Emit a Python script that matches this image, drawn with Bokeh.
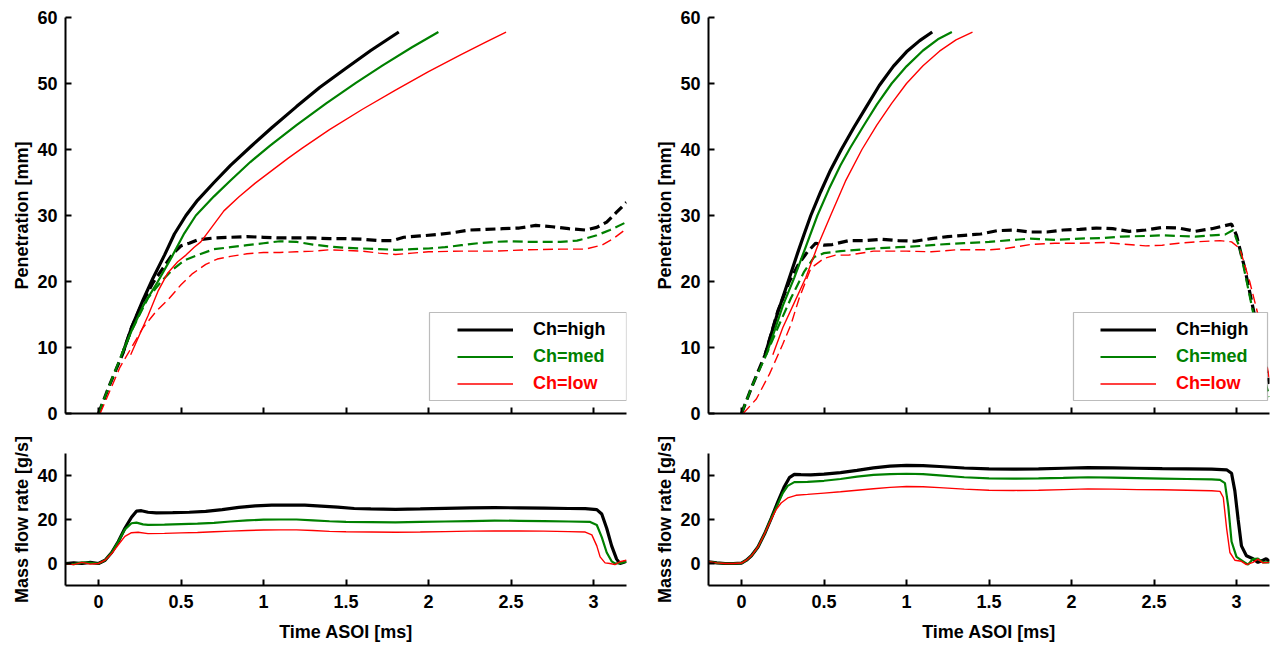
from bokeh.plotting import figure
from bokeh.layouts import gridplot
from bokeh.models import Range1d, FixedTicker, Legend, LegendItem, BoxAnnotation
from bokeh.embed import file_html
from bokeh.resources import INLINE

# ---------------- data ----------------
series_names = ["Ch=high", "Ch=med", "Ch=low"]
x_ticks = [0, 0.5, 1, 1.5, 2, 2.5, 3]
x_tick_labels = ["0", "0.5", "1", "1.5", "2", "2.5", "3"]
pen_ticks = [0, 10, 20, 30, 40, 50, 60]
mfr_ticks = [0, 20, 40]

# Left column, penetration, solid (vapour)
L_vap_high_t = [0.144, 0.2, 0.27, 0.33, 0.4, 0.46, 0.53, 0.6, 0.7, 0.8, 0.93, 1.05, 1.2, 1.34, 1.5, 1.65, 1.82]
L_vap_high_y = [8.9, 13.0, 17.2, 20.5, 24.0, 27.2, 30.0, 32.3, 35.0, 37.6, 40.6, 43.3, 46.5, 49.4, 52.3, 55.0, 57.8]
L_vap_med_t = [0.14, 0.2, 0.27, 0.36, 0.45, 0.52, 0.59, 0.7, 0.8, 0.92, 1.04, 1.2, 1.38, 1.56, 1.72, 1.9, 2.06]
L_vap_med_y = [8.9, 12.5, 16.3, 20.0, 24.0, 27.3, 30.0, 32.9, 35.3, 38.1, 40.6, 43.7, 47.0, 50.1, 52.7, 55.5, 57.8]
L_vap_low_t = [0.195, 0.25, 0.3, 0.36, 0.42, 0.48, 0.53, 0.58, 0.62, 0.68, 0.76, 0.85, 0.95, 1.05, 1.15, 1.235, 1.4, 1.6, 1.8, 2.0, 2.2, 2.35, 2.47]
L_vap_low_y = [8.9, 12.0, 14.8, 18.5, 21.3, 23.0, 24.0, 25.2, 26.0, 28.0, 30.7, 32.8, 34.9, 36.8, 38.7, 40.2, 43.0, 46.1, 49.0, 51.8, 54.4, 56.3, 57.8]

# Left column, penetration, dashed (liquid)
L_liq_high_t = [0, 0.07, 0.144, 0.2, 0.27, 0.33, 0.39, 0.45, 0.5, 0.55, 0.6, 0.7, 0.8, 0.9, 1.0, 1.1, 1.2, 1.3, 1.4, 1.5, 1.6, 1.7, 1.78, 1.85, 1.95, 2.05, 2.15, 2.25, 2.35, 2.45, 2.55, 2.65, 2.75, 2.85, 2.95, 3.02, 3.08, 3.14, 3.2]
L_liq_high_y = [0, 4.5, 8.9, 13.0, 17.0, 19.8, 22.0, 24.2, 25.4, 25.8, 26.3, 26.6, 26.7, 26.8, 26.7, 26.6, 26.6, 26.6, 26.5, 26.5, 26.4, 26.2, 26.2, 26.7, 26.9, 27.1, 27.4, 27.8, 27.9, 28.0, 28.1, 28.5, 28.3, 28.0, 27.8, 28.2, 29.0, 30.5, 32.0]
L_liq_med_t = [0, 0.07, 0.14, 0.2, 0.3, 0.38, 0.45, 0.52, 0.6, 0.7, 0.8, 0.9, 1.0, 1.1, 1.2, 1.3, 1.4, 1.5, 1.6, 1.7, 1.8, 1.9, 2.0, 2.1, 2.2, 2.3, 2.4, 2.5, 2.6, 2.7, 2.8, 2.9, 2.95, 3.02, 3.1, 3.2]
L_liq_med_y = [0, 4.5, 8.9, 12.5, 17.5, 20.0, 21.8, 23.2, 24.0, 24.9, 25.2, 25.5, 25.8, 26.1, 26.0, 25.6, 25.3, 25.1, 25.0, 24.9, 24.8, 24.9, 25.0, 25.2, 25.5, 25.8, 26.0, 26.1, 26.0, 26.0, 26.0, 26.2, 26.5, 27.0, 27.8, 29.0]
L_liq_low_t = [0.01, 0.07, 0.13, 0.2, 0.27, 0.35, 0.42, 0.5, 0.57, 0.65, 0.72, 0.8, 0.9, 1.0, 1.1, 1.2, 1.3, 1.4, 1.5, 1.6, 1.7, 1.8, 1.9, 2.0, 2.2, 2.4, 2.6, 2.8, 2.95, 3.05, 3.12, 3.2]
L_liq_low_y = [0, 3.5, 7.0, 10.0, 13.0, 15.5, 17.2, 19.5, 21.2, 22.6, 23.4, 23.8, 24.2, 24.4, 24.4, 24.5, 24.6, 24.8, 24.7, 24.6, 24.3, 24.1, 24.3, 24.5, 24.6, 24.6, 24.8, 24.9, 24.9, 25.5, 26.5, 28.0]

# Right column, penetration, solid (vapour)
R_vap_high_t = [0.143, 0.18, 0.22, 0.26, 0.3, 0.34, 0.38, 0.42, 0.48, 0.54, 0.605, 0.68, 0.75, 0.835, 0.92, 1.0, 1.08, 1.156]
R_vap_high_y = [8.9, 12.0, 15.3, 18.3, 21.3, 24.3, 27.2, 30.0, 33.6, 36.9, 40.0, 43.3, 46.2, 49.7, 52.6, 54.8, 56.5, 57.8]
R_vap_med_t = [0.15, 0.2, 0.25, 0.32, 0.39, 0.46, 0.53, 0.6, 0.66, 0.74, 0.82, 0.91, 1.0, 1.1, 1.19, 1.275]
R_vap_med_y = [8.9, 12.5, 16.3, 20.6, 25.3, 30.0, 34.0, 37.6, 40.3, 43.6, 46.8, 50.0, 52.6, 55.0, 56.7, 57.8]
R_vap_low_t = [0.19, 0.25, 0.32, 0.39, 0.46, 0.54, 0.63, 0.73, 0.82, 0.91, 1.0, 1.1, 1.2, 1.3, 1.4]
R_vap_low_y = [8.9, 13.0, 16.8, 20.6, 25.3, 30.0, 35.2, 40.0, 43.7, 47.0, 50.0, 52.7, 54.9, 56.6, 57.8]

# Right column, penetration, dashed (liquid)
R_liq_high_t = [0, 0.07, 0.143, 0.22, 0.29, 0.35, 0.4, 0.45, 0.5, 0.55, 0.65, 0.75, 0.85, 0.95, 1.05, 1.15, 1.25, 1.35, 1.45, 1.55, 1.65, 1.75, 1.85, 1.95, 2.05, 2.15, 2.25, 2.35, 2.45, 2.55, 2.65, 2.75, 2.85, 2.92, 2.97, 3.0, 3.05, 3.1, 3.15, 3.2]
R_liq_high_y = [0, 4.5, 8.9, 15.5, 20.0, 22.8, 24.5, 25.8, 25.5, 25.6, 26.2, 26.2, 26.4, 26.2, 26.1, 26.5, 26.8, 27.0, 27.2, 27.7, 27.8, 27.5, 27.5, 27.8, 27.9, 28.1, 28.0, 27.6, 27.8, 28.2, 28.1, 27.6, 28.0, 28.4, 28.7, 27.0, 22.0, 16.0, 10.0, 4.5]
R_liq_med_t = [0, 0.07, 0.15, 0.22, 0.3, 0.38, 0.44, 0.5, 0.6, 0.7, 0.8, 0.95, 1.1, 1.2, 1.35, 1.5, 1.65, 1.75, 1.9, 2.05, 2.2, 2.3, 2.45, 2.55, 2.65, 2.75, 2.85, 2.93, 2.98, 3.02, 3.07, 3.12, 3.16, 3.2]
R_liq_med_y = [0, 4.5, 8.9, 13.0, 17.5, 21.5, 23.7, 24.3, 24.6, 24.8, 25.0, 25.2, 25.4, 25.6, 25.8, 26.0, 26.3, 26.5, 26.3, 26.5, 26.6, 26.8, 26.9, 27.0, 26.9, 26.8, 27.0, 27.1, 27.8, 25.0, 19.0, 13.0, 6.0, 2.5]
R_liq_low_t = [0.01, 0.09, 0.17, 0.25, 0.3, 0.35, 0.42, 0.5, 0.57, 0.65, 0.8, 1.0, 1.15, 1.3, 1.5, 1.6, 1.75, 1.9, 2.05, 2.2, 2.3, 2.45, 2.55, 2.65, 2.75, 2.9, 2.97, 3.02, 3.08, 3.13, 3.18, 3.2]
R_liq_low_y = [0, 2.2, 6.0, 10.5, 13.5, 17.5, 22.0, 23.5, 24.0, 24.0, 24.6, 24.6, 24.5, 24.8, 24.8, 25.0, 25.6, 25.8, 25.8, 25.9, 25.7, 25.4, 25.5, 25.8, 26.0, 26.2, 26.0, 25.0, 20.0, 15.0, 8.0, 5.0]

# Left column, mass flow rate
L_mfr_high_t = [-0.2, -0.15, -0.1, -0.05, 0.0, 0.04, 0.08, 0.12, 0.16, 0.2, 0.23, 0.26, 0.3, 0.35, 0.45, 0.55, 0.65, 0.75, 0.85, 0.95, 1.05, 1.15, 1.25, 1.35, 1.45, 1.55, 1.65, 1.8, 1.95, 2.1, 2.25, 2.4, 2.55, 2.7, 2.85, 2.95, 3.02, 3.05, 3.08, 3.11, 3.14, 3.16, 3.18, 3.2]
L_mfr_high_y = [0, 0.3, 0, 0.5, 0, 1.5, 5, 10, 16, 21, 23.8, 24, 23.3, 23, 23.1, 23.3, 23.7, 24.5, 25.5, 26.2, 26.5, 26.6, 26.5, 26.1, 25.6, 25.0, 24.8, 24.6, 24.8, 25.1, 25.3, 25.4, 25.3, 25.2, 25.0, 24.9, 24.5, 22.5, 16, 8, 2, 0, 0.5, 1]
L_mfr_med_t = [-0.2, -0.15, -0.1, -0.05, 0.0, 0.04, 0.08, 0.12, 0.16, 0.2, 0.23, 0.27, 0.3, 0.4, 0.5, 0.6, 0.7, 0.8, 0.9, 1.0, 1.1, 1.2, 1.3, 1.4, 1.5, 1.65, 1.8, 1.95, 2.1, 2.25, 2.4, 2.55, 2.7, 2.85, 2.98, 3.02, 3.05, 3.08, 3.11, 3.13, 3.16, 3.2]
L_mfr_med_y = [0, -0.3, 0.5, 0.3, 0, 1.5, 5, 10, 15.5, 18.3, 18.6, 17.8, 17.6, 17.7, 17.9, 18.1, 18.5, 19.1, 19.6, 19.9, 20.0, 20.0, 19.6, 19.2, 18.9, 18.8, 18.7, 18.9, 19.1, 19.3, 19.5, 19.4, 19.3, 19.1, 18.9, 17.5, 12, 5, 1, 0, 0.2, 0.8]
L_mfr_low_t = [-0.2, -0.15, -0.1, -0.05, 0.0, 0.04, 0.08, 0.12, 0.16, 0.2, 0.24, 0.3, 0.4, 0.5, 0.6, 0.7, 0.8, 0.9, 1.0, 1.1, 1.2, 1.3, 1.4, 1.5, 1.65, 1.8, 1.95, 2.1, 2.25, 2.4, 2.55, 2.7, 2.85, 2.95, 2.99, 3.02, 3.04, 3.07, 3.1, 3.13, 3.16, 3.2]
L_mfr_low_y = [0, -0.5, 0.5, -0.3, 0, 1.5, 4.5, 8.5, 12.3, 14.0, 14.2, 13.6, 13.7, 13.9, 14.1, 14.4, 14.7, 15.0, 15.2, 15.3, 15.3, 15.0, 14.6, 14.4, 14.3, 14.2, 14.3, 14.5, 14.7, 14.8, 14.8, 14.7, 14.5, 14.3, 13, 8, 3, 0.3, 0, -0.5, 0.8, 1.5]

# Right column, mass flow rate
R_mfr_high_t = [-0.2, -0.15, -0.1, -0.05, 0.0, 0.03, 0.06, 0.1, 0.14, 0.18, 0.22, 0.26, 0.29, 0.32, 0.36, 0.42, 0.5, 0.6, 0.7, 0.8, 0.9, 1.0, 1.1, 1.2, 1.35, 1.5, 1.65, 1.8, 1.95, 2.1, 2.25, 2.4, 2.55, 2.7, 2.85, 2.94, 2.97, 2.99, 3.01, 3.03, 3.06, 3.1, 3.13, 3.16, 3.18, 3.2]
R_mfr_high_y = [0.8, 0.3, 0, 0, 0.2, 1.5, 3.5, 7.5, 13.5, 20.5, 28, 35, 39, 40.5, 40.4, 40.3, 40.6, 41.3, 42.3, 43.5, 44.3, 44.6, 44.5, 44.1, 43.4, 43.0, 42.9, 43.0, 43.3, 43.6, 43.5, 43.3, 43.1, 43.0, 42.9, 42.6, 41, 33, 20, 8, 3.5, 2.2, 0.5, 1.5, 2.2, 1]
R_mfr_med_t = [-0.2, -0.15, -0.1, -0.05, 0.0, 0.03, 0.06, 0.1, 0.14, 0.18, 0.22, 0.25, 0.28, 0.32, 0.4, 0.5, 0.6, 0.7, 0.8, 0.9, 1.0, 1.1, 1.2, 1.35, 1.5, 1.65, 1.8, 1.95, 2.1, 2.25, 2.4, 2.55, 2.7, 2.85, 2.9, 2.93, 2.95, 2.97, 3.0, 3.04, 3.07, 3.1, 3.13, 3.16, 3.2]
R_mfr_med_y = [0.8, 0.3, 0, 0, 0.2, 1.5, 3.5, 7.5, 13.5, 20.5, 27, 32, 35.3, 37, 37.1, 37.6, 38.4, 39.5, 40.3, 40.6, 40.8, 40.6, 40.1, 39.2, 38.7, 38.6, 38.7, 38.9, 39.2, 39.0, 38.8, 38.6, 38.4, 38.2, 38.0, 36.5, 26, 10, 3, 1, -0.5, 2, 2.2, 0.5, 0.5]
R_mfr_low_t = [-0.2, -0.15, -0.1, -0.05, 0.0, 0.03, 0.06, 0.1, 0.14, 0.18, 0.21, 0.24, 0.28, 0.33, 0.4, 0.5, 0.6, 0.7, 0.8, 0.9, 1.0, 1.1, 1.2, 1.35, 1.5, 1.65, 1.8, 1.95, 2.1, 2.25, 2.4, 2.55, 2.7, 2.85, 2.9, 2.92, 2.94, 2.96, 2.99, 3.03, 3.06, 3.1, 3.13, 3.16, 3.2]
R_mfr_low_y = [0.8, 0.3, 0, 0, 0.2, 1.5, 3.5, 7.5, 13.5, 20, 24.5, 27.5, 29.8, 31.0, 31.4, 32.0, 32.6, 33.3, 34.0, 34.6, 35.0, 34.9, 34.5, 33.8, 33.3, 33.2, 33.3, 33.6, 33.9, 33.8, 33.6, 33.5, 33.3, 33.1, 32.8, 30, 16, 5, 1.5, 1, -0.5, 0.5, 2, 0.3, 0.5]

# ---------------- styling ----------------
FONT = "Liberation Sans"
FS = "18px"
COLORS = ["#000000", "#008000", "#ff0000"]
WIDTHS = [3.2, 2.2, 1.4]
DASH = "10 5"


def make_fig(ylo, yhi, yticks, ylabel, show_xlabels, frame_w, frame_h,
             b_left, b_right, b_top, b_bottom):
    p = figure(frame_width=frame_w, frame_height=frame_h,
               x_range=Range1d(-0.2, 3.2), y_range=Range1d(ylo, yhi),
               output_backend="svg", toolbar_location=None,
               min_border_left=b_left, min_border_right=b_right,
               min_border_top=b_top, min_border_bottom=b_bottom)
    p.outline_line_color = None
    p.grid.visible = False
    p.background_fill_color = "white"
    for ax in (p.xaxis[0], p.yaxis[0]):
        ax.axis_line_width = 2
        ax.axis_line_color = "black"
        ax.major_tick_in = 6
        ax.major_tick_out = 0
        ax.major_tick_line_width = 2
        ax.minor_tick_line_color = None
        ax.major_label_text_font = FONT
        ax.major_label_text_font_size = FS
        ax.major_label_text_font_style = "bold"
        ax.major_label_text_color = "black"
        ax.axis_label_text_font = FONT
        ax.axis_label_text_font_size = FS
        ax.axis_label_text_font_style = "bold"
        ax.axis_label_text_color = "black"
    p.xaxis.ticker = FixedTicker(ticks=x_ticks)
    p.xaxis.major_label_overrides = {t: s for t, s in zip(x_ticks, x_tick_labels)}
    p.yaxis.ticker = FixedTicker(ticks=yticks)
    p.yaxis.axis_label = ylabel
    p.yaxis.major_label_standoff = 8
    p.yaxis.axis_label_standoff = 2
    if show_xlabels:
        p.xaxis.axis_label = "Time ASOI [ms]"
        p.xaxis.major_label_standoff = 9
        p.xaxis.axis_label_standoff = 11
    else:
        p.xaxis.major_label_text_color = None
        p.xaxis.major_label_standoff = 0
    return p


def add_pen(p, vap, liq, box_left, box_right):
    solid = []
    for i in range(3):
        (vt, vy), (lt, ly) = vap[i], liq[i]
        r = p.line(vt, vy, line_color=COLORS[i], line_width=WIDTHS[i])
        p.line(lt, ly, line_color=COLORS[i], line_width=WIDTHS[i], line_dash=DASH)
        solid.append(r)
    # legend frame (white, thin black border)
    p.add_layout(BoxAnnotation(left=box_left, right=box_right, bottom=1.97, top=15.3,
                               fill_color="white", fill_alpha=1.0,
                               line_color="#222222", line_width=1.2))
    row_bottoms = [73, 46, 19]
    for i in range(3):
        lg = Legend(items=[LegendItem(label=series_names[i], renderers=[solid[i]])],
                    location=(392, row_bottoms[i]), padding=0, margin=0,
                    glyph_width=56, glyph_height=21, label_height=21,
                    label_standoff=20, spacing=0,
                    border_line_color=None, background_fill_alpha=0,
                    label_text_font=FONT, label_text_font_size=FS,
                    label_text_font_style="bold", label_text_color=COLORS[i])
        p.add_layout(lg)


def add_mfr(p, data):
    for i in range(3):
        t, y = data[i]
        p.line(t, y, line_color=COLORS[i], line_width=WIDTHS[i])


p1 = make_fig(0, 60, pen_ticks, "Penetration [mm]", False, 561, 396, 65, 17, 17, 20)
p2 = make_fig(0, 60, pen_ticks, "Penetration [mm]", False, 561, 396, 65, 7, 17, 20)
p3 = make_fig(-10, 50, mfr_ticks, "Mass flow rate [g/s]", True, 561, 132, 65, 17, 20, 63)
p4 = make_fig(-10, 50, mfr_ticks, "Mass flow rate [g/s]", True, 561, 132, 65, 7, 20, 63)

add_pen(p1,
        [(L_vap_high_t, L_vap_high_y), (L_vap_med_t, L_vap_med_y), (L_vap_low_t, L_vap_low_y)],
        [(L_liq_high_t, L_liq_high_y), (L_liq_med_t, L_liq_med_y), (L_liq_low_t, L_liq_low_y)],
        2.006, 3.2)
add_pen(p2,
        [(R_vap_high_t, R_vap_high_y), (R_vap_med_t, R_vap_med_y), (R_vap_low_t, R_vap_low_y)],
        [(R_liq_high_t, R_liq_high_y), (R_liq_med_t, R_liq_med_y), (R_liq_low_t, R_liq_low_y)],
        2.012, 3.188)
add_mfr(p3, [(L_mfr_high_t, L_mfr_high_y), (L_mfr_med_t, L_mfr_med_y), (L_mfr_low_t, L_mfr_low_y)])
add_mfr(p4, [(R_mfr_high_t, R_mfr_high_y), (R_mfr_med_t, R_mfr_med_y), (R_mfr_low_t, R_mfr_low_y)])

grid = gridplot([[p1, p2], [p3, p4]], toolbar_location=None)

with open("out.html", "w") as f:
    f.write(file_html(grid, INLINE))
